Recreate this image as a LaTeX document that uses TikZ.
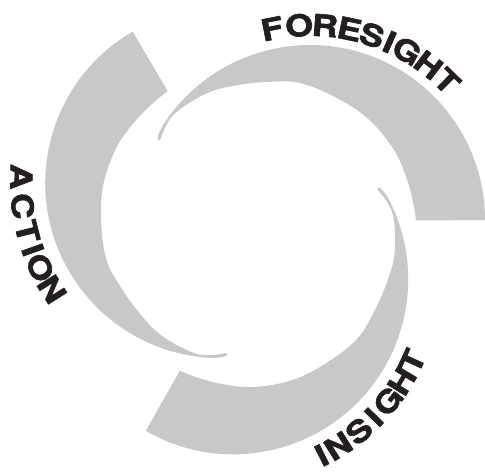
\documentclass[tikz,border=0pt]{standalone}
\usepackage{fontspec}
\newfontfamily\logofont[FakeStretch=1.2, FakeBold=2.2]{TeX Gyre Heros Bold}
\usetikzlibrary{calc}
\definecolor{swoosh}{RGB}{199,200,202}
\definecolor{ink}{RGB}{35,31,32}
\tikzset{
  letter/.style={font=\logofont\fontsize{30}{30}\selectfont, text=ink, inner sep=0pt, anchor=center},
  blade/.pic={
    \fill[swoosh] (161.5,7) -- (230.5,7.5)
      arc[start angle=0, end angle=145, radius=175]
      .. controls (-93,101) and (-96.5,93) .. (-97,89)
      .. controls (-97.3,86.5) and (-95.5,86) .. (-94,88.5)
      -- plot[smooth, tension=0.6] coordinates {(-94,88.5) (-81.2,112.5) (-47.8,134.2) (-14.5,142.8) (18.5,145.8) (45.5,144.5) (78.5,131.5) (112.2,110) (138.6,79) (152.2,49) (158.8,24.2) (161.5,7)}
      -- cycle;
  }
}
\begin{document}
\begin{tikzpicture}[x=1pt,y=1pt]
\useasboundingbox (-254.5,-246.5) rectangle (230.5,227.5);
\pic at (0,0) {blade};
\pic[rotate=120] at (0,0) {blade};
\pic[rotate=240] at (0,0) {blade};
% FORESIGHT
\coordinate (cf) at (55.5,7.5);
\foreach \l/\a [count=\i] in {F/101.2,O/93.2,R/85.6,E/78.3,S/71.4,I/65.9,G/60.2,H/52.6,T/45.4}
  \node[letter, rotate=\a-90] (f\i) at ($(cf)+(\a:195)$) {\l};
% ACTION
\coordinate (ca) at (-34.2,44.3);
\foreach \l/\a [count=\i] in {A/178.2,C/186.6,T/194.1,I/199.6,O/205.1,N/212.2}
  \node[letter, rotate=\a+90] (a\i) at ($(ca)+(\a:199)$) {\l};
% INSIGHT
\coordinate (ci) at (-21.3,-51.8);
\foreach \l/\a [count=\i] in {I/-63.3,N/-57.8,S/-50.3,I/-44.4,G/-38.2,H/-31.1,T/-24.6}
  \node[letter, rotate=\a+90] (i\i) at ($(ci)+(\a:197)$) {\l};
\end{tikzpicture}
\end{document}
